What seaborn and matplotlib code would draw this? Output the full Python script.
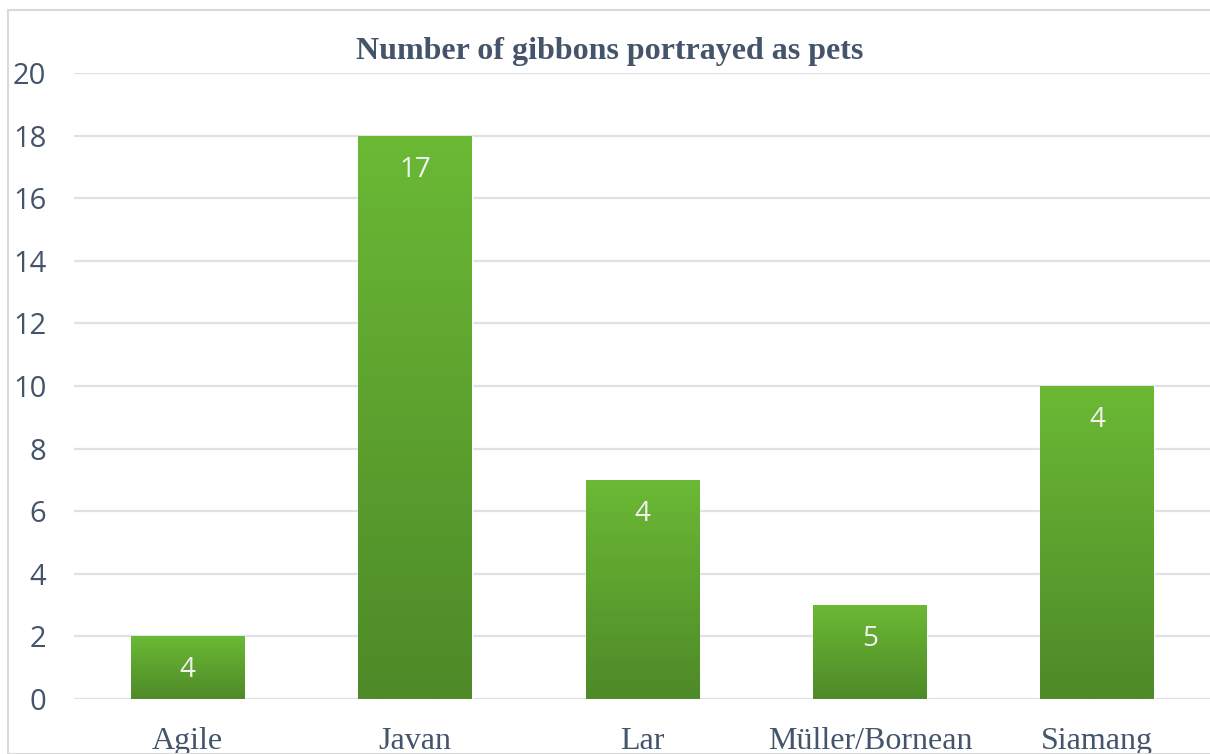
import numpy as np
import pandas as pd
import matplotlib
matplotlib.use("Agg")
import matplotlib.pyplot as plt
import seaborn as sns
from matplotlib.colors import LinearSegmentedColormap
from matplotlib.patches import Rectangle

categories = ["Agile", "Javan", "Lar", "Müller/Bornean", "Siamang"]
bar_heights = [2, 18, 7, 3, 10]
bar_labels = ["4", "17", "4", "5", "4"]
y_ticks = [0, 2, 4, 6, 8, 10, 12, 14, 16, 18, 20]
title = "Number of gibbons portrayed as pets"

df = pd.DataFrame({"species": categories, "value": bar_heights})

sns.set_theme(style="white")
text_color = "#44546A"

fig = plt.figure(figsize=(12.1, 7.54), dpi=100)
ax = fig.add_axes([74 / 1210, 1 - 699 / 754, (1211 - 74) / 1210, (699 - 73) / 754])

sns.barplot(data=df, x="species", y="value", color="#5FA22F", width=0.5, ax=ax, zorder=3)

ax.set_ylim(0, 20)
ax.set_xlim(-0.5, 4.5)
ax.set_yticks(y_ticks)
ax.yaxis.grid(True, color="#DDE2E8", linewidth=1.6, zorder=0)
ax.set_axisbelow(True)
for s in ax.spines.values():
    s.set_visible(False)
ax.set_xlabel("")
ax.set_ylabel("")
ax.tick_params(axis="y", length=0, pad=20, labelsize=21, labelcolor=text_color)
ax.tick_params(axis="x", length=0, pad=20, labelcolor=text_color)
for lab in ax.get_yticklabels():
    lab.set_fontfamily("Open Sans")
for lab in ax.get_xticklabels():
    lab.set_fontfamily("Liberation Serif")
    lab.set_fontsize(23)

# gradient fill for bars
cmap = LinearSegmentedColormap.from_list("g", ["#4E8A28", "#6BB935"])
grad = np.linspace(0, 1, 256).reshape(-1, 1)
for patch in ax.patches:
    x0, y0 = patch.get_x(), patch.get_y()
    w, h = patch.get_width(), patch.get_height()
    im = ax.imshow(grad, cmap=cmap, aspect="auto", origin="lower",
                   extent=[x0, x0 + w, y0, y0 + h], zorder=4)
    im.set_clip_path(patch)
ax.set_xlim(-0.5, 4.5)
ax.set_ylim(0, 20)

for i, (h, lab) in enumerate(zip(bar_heights, bar_labels)):
    ax.annotate(lab, xy=(i, h), xytext=(0, -24.5), textcoords="offset points",
                ha="center", va="center", color="#F2F2F2", fontsize=20,
                family="Open Sans", zorder=5)

fig.text(610 / 1210, 1 - 52 / 754, title, ha="center", va="center",
         fontsize=23, fontweight="bold", family="Liberation Serif", color=text_color)

# outer frame
fig.patches.append(Rectangle((8 / 1210, 0), 1.2, 1 - 10 / 754, transform=fig.transFigure,
                             fill=False, edgecolor="#D9D9D9", linewidth=1.5, zorder=0))

fig.savefig("out.png", dpi=100)
